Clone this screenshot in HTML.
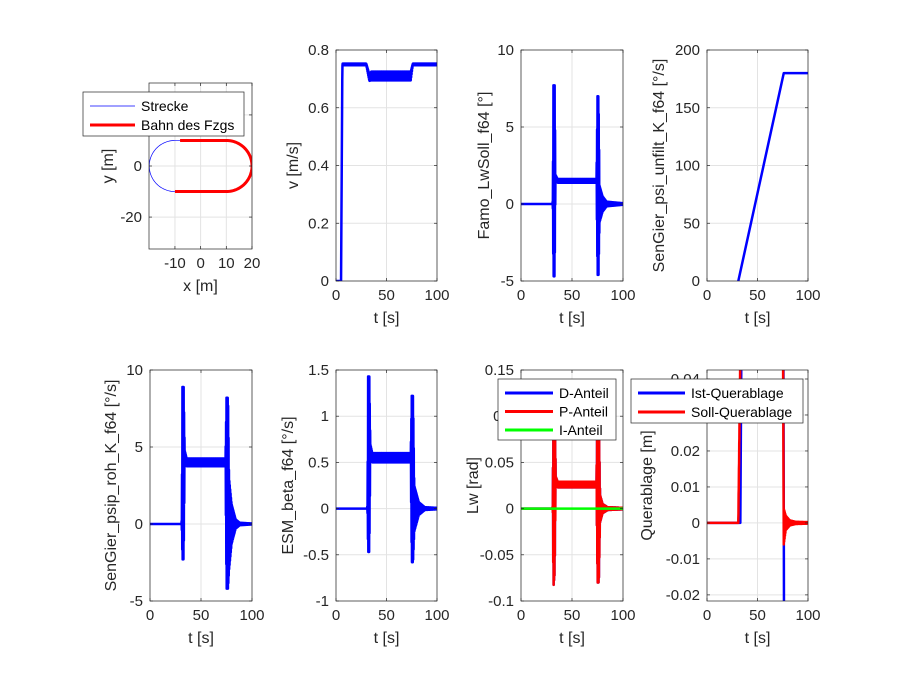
<!DOCTYPE html>
<html><head><meta charset="utf-8"><style>
html,body{margin:0;padding:0;background:#fff;width:900px;height:675px;overflow:hidden;}
svg{display:block;font-family:"Liberation Sans",Arial,sans-serif;}
</style></head><body>
<svg id="s" width="900" height="675" xmlns="http://www.w3.org/2000/svg"></svg>
<script>
var S=document.getElementById('s'),out='',cid=0;
function esc(t){return t.replace(/&/g,'&amp;').replace(/</g,'&lt;');}
function ax(o){
 var x0=o.x,y0=o.y,w=o.w,h=o.h;
 var X=function(v){return x0+(v-o.xr[0])/(o.xr[1]-o.xr[0])*w;};
 var Y=function(v){return y0+h-(v-o.yr[0])/(o.yr[1]-o.yr[0])*h;};
 cid++;
 var g='<defs><clipPath id="c'+cid+'"><rect x="'+x0+'" y="'+y0+'" width="'+w+'" height="'+h+'"/></clipPath></defs>';
 g+='<rect x="'+x0+'" y="'+y0+'" width="'+w+'" height="'+h+'" fill="#fff"/>';
 o.xt.forEach(function(v){var p=X(v);g+='<line x1="'+p+'" y1="'+y0+'" x2="'+p+'" y2="'+(y0+h)+'" stroke="#e3e3e3" stroke-width="1"/>';});
 o.yt.forEach(function(v){var p=Y(v);g+='<line x1="'+x0+'" y1="'+p+'" x2="'+(x0+w)+'" y2="'+p+'" stroke="#e3e3e3" stroke-width="1"/>';});
 g+='<g clip-path="url(#c'+cid+')">';
 o.series.forEach(function(s){
  var d='';s.pts.forEach(function(p,i){d+=(i?'L':'M')+X(p[0]).toFixed(2)+' '+Y(p[1]).toFixed(2);});
  g+='<path d="'+d+'" fill="none" stroke="'+s.c+'" stroke-width="'+s.w+'" stroke-linejoin="round"/>';
 });
 g+='</g>';
 g+='<rect x="'+x0+'" y="'+y0+'" width="'+w+'" height="'+h+'" fill="none" stroke="#262626" stroke-width="0.7"/>';
 o.xt.forEach(function(v){var p=X(v);g+='<line x1="'+p+'" y1="'+(y0+h)+'" x2="'+p+'" y2="'+(y0+h-3)+'" stroke="#262626" stroke-width="0.7"/><line x1="'+p+'" y1="'+y0+'" x2="'+p+'" y2="'+(y0+3)+'" stroke="#262626" stroke-width="0.7"/>';
  g+='<text x="'+p+'" y="'+(y0+h+19)+'" font-size="15" text-anchor="middle" fill="#262626">'+v+'</text>';});
 o.yt.forEach(function(v,i){var p=Y(v);g+='<line x1="'+x0+'" y1="'+p+'" x2="'+(x0+3)+'" y2="'+p+'" stroke="#262626" stroke-width="0.7"/><line x1="'+(x0+w)+'" y1="'+p+'" x2="'+(x0+w-3)+'" y2="'+p+'" stroke="#262626" stroke-width="0.7"/>';
  var lab=o.yl?o.yl[i]:String(v);
  if(lab!=='')g+='<text x="'+(x0-7)+'" y="'+(p+5)+'" font-size="15" text-anchor="end" fill="#262626">'+lab+'</text>';});
 g+='<text x="'+(x0+w/2)+'" y="'+(y0+h+42)+'" font-size="16" text-anchor="middle" fill="#262626">'+esc(o.xlab)+'</text>';
 var cy=y0+h/2;
 g+='<text transform="translate('+o.ylx+','+cy+') rotate(-90)" font-size="16" text-anchor="middle" fill="#262626">'+esc(o.ylab)+'</text>';
 if(o.leg){var L=o.leg;
  g+='<rect x="'+L.x+'" y="'+L.y+'" width="'+L.w+'" height="'+L.h+'" fill="#fff" stroke="#262626" stroke-width="0.7"/>';
  L.items.forEach(function(it,i){var yy=L.y+14+i*L.dy;
   g+='<line x1="'+L.lx+'" y1="'+yy+'" x2="'+(L.lx+L.ll)+'" y2="'+yy+'" stroke="'+it.c+'" stroke-width="'+it.w+'"/>';
   g+='<text x="'+(L.lx+L.ll+6)+'" y="'+(yy+5)+'" font-size="14" fill="#000">'+esc(it.t)+'</text>';});
 }
 out+=g;
}
function interp(keys,t){
 if(t<=keys[0][0])return [keys[0][1],keys[0][2]];
 for(var i=1;i<keys.length;i++){if(t<=keys[i][0]){var a=keys[i-1],b=keys[i],f=(t-a[0])/(b[0]-a[0]);return [a[1]+f*(b[1]-a[1]),a[2]+f*(b[2]-a[2])];}}
 var k=keys[keys.length-1];return [k[1],k[2]];
}
function osc(keys,dt){var p=[],i=0;for(var t=0;t<=100.0001;t+=dt){var v=interp(keys,t);p.push([t,v[0]+(i%2?v[1]:-v[1])]);i++;}return p;}
var T=[0,50,100];
var blue=[],red=[],i,a;
for(i=0;i<=60;i++){a=Math.PI/2+i*Math.PI/60;blue.push([-10+10*Math.cos(a),10*Math.sin(a)]);}
blue.push([10,-10]);
for(i=0;i<=60;i++){a=-Math.PI/2+i*Math.PI/60;blue.push([10+10*Math.cos(a),10*Math.sin(a)]);}
blue.push([-10,10]);
red.push([-8,10]);red.push([10,10]);
for(i=0;i<=60;i++){a=Math.PI/2-i*Math.PI/60;red.push([10+10*Math.cos(a),10*Math.sin(a)]);}
red.push([-10,-10]);
ax({x:149,y:83,w:103,h:166,xr:[-20.1,20],yr:[-32.5,32.5],xt:[-10,0,10,20],yt:[-20,0,20],yl:['-20','0',''],xlab:'x [m]',ylab:'y [m]',ylx:113,
 series:[{pts:blue,c:'#0000ff',w:0.7},{pts:red,c:'#ff0000',w:3}],
 leg:{x:83,y:92,w:161,h:44,lx:90,ll:45,dy:19,items:[{t:'Strecke',c:'#0000ff',w:0.7},{t:'Bahn des Fzgs',c:'#ff0000',w:3}]}});
var vk=[[0,0,0],[5,0,0],[6.3,0.75,0.003],[30,0.75,0.003],[33,0.705,0.012],[35,0.71,0.015],[74,0.71,0.015],[76,0.75,0.003],[100,0.75,0.003]];
ax({x:336,y:50,w:101,h:231,xr:[0,100],yr:[0,0.8],xt:T,yt:[0,0.2,0.4,0.6,0.8],xlab:'t [s]',ylab:'v [m/s]',ylx:298,
 series:[{pts:osc(vk,0.2),c:'#0000ff',w:2.5}]});
var fk=[[0,0,0],[30.8,0,0],[31.2,0,0.3],[31.8,1.5,6.2],[33,1.5,6.2],[33.8,1.7,0.2],[36,1.5,0.12],[74,1.5,0.12],[75,1.2,5.8],[76,1.2,5.8],[77,0,1.2],[80,0,0.5],[84,0,0.15],[100,0,0.05]];
ax({x:521,y:50,w:102,h:231,xr:[0,100],yr:[-5,10],xt:T,yt:[-5,0,5,10],xlab:'t [s]',ylab:'Famo_LwSoll_f64 [°]',ylx:489,
 series:[{pts:osc(fk,0.2),c:'#0000ff',w:2.5}]});
ax({x:707,y:50,w:101,h:231,xr:[0,100],yr:[0,200],xt:T,yt:[0,50,100,150,200],xlab:'t [s]',ylab:'SenGier_psi_unfilt_K_f64 [°/s]',ylx:664,
 series:[{pts:[[30,-5],[31,0],[76,180],[100,180]],c:'#0000ff',w:2.5}]});
var pk=[[0,0,0],[30.8,0,0],[31.2,0,0.4],[31.8,3.3,5.6],[33,3.3,5.6],[34,4.3,0.5],[36,4,0.25],[74,4,0.25],[75,2,6.2],[76.5,2,6.2],[77.5,0,3],[80,0,1.3],[84,0,0.3],[88,0,0.08],[100,0,0.03]];
ax({x:150,y:370,w:102,h:231,xr:[0,100],yr:[-5,10],xt:T,yt:[-5,0,5,10],xlab:'t [s]',ylab:'SenGier_psip_roh_K_f64 [°/s]',ylx:116,
 series:[{pts:osc(pk,0.2),c:'#0000ff',w:2.5}]});
var ek=[[0,0,0],[30.8,0,0],[31.2,0,0.05],[31.8,0.48,0.95],[33,0.48,0.95],[34,0.62,0.08],[36,0.55,0.05],[74,0.55,0.05],[75,0.32,0.9],[76.3,0.32,0.9],[77.5,0,0.25],[82,0,0.07],[88,0,0.015],[100,0,0.008]];
ax({x:336,y:370,w:101,h:231,xr:[0,100],yr:[-1,1.5],xt:T,yt:[-1,-0.5,0,0.5,1,1.5],xlab:'t [s]',ylab:'ESM_beta_f64 [°/s]',ylx:293,
 series:[{pts:osc(ek,0.2),c:'#0000ff',w:2.5}]});
var lk=[[0,0,0],[30.8,0,0],[31.2,0,0.004],[31.8,0.02,0.105],[33,0.03,0.1],[34,0.03,0.005],[36,0.026,0.003],[74,0.026,0.003],[75,0.02,0.1],[76.3,0.01,0.09],[77.5,0,0.015],[80,0,0.005],[85,0,0.0015],[100,0,0.0008]];
var lp=osc(lk,0.2);
ax({x:521,y:370,w:102,h:231,xr:[0,100],yr:[-0.1,0.15],xt:T,yt:[-0.1,-0.05,0,0.05,0.1,0.15],xlab:'t [s]',ylab:'Lw [rad]',ylx:478,
 series:[{pts:lp,c:'#0000ff',w:2.5},{pts:lp,c:'#ff0000',w:2.5},{pts:[[0,0],[100,0]],c:'#00ff00',w:2.5}],
 leg:{x:498,y:379,w:118,h:61,lx:505,ll:48,dy:18.5,items:[{t:'D-Anteil',c:'#0000ff',w:3},{t:'P-Anteil',c:'#ff0000',w:3},{t:'I-Anteil',c:'#00ff00',w:3}]}});
var rq=[[0,0],[31,0]];
for(var t=31;t<=34;t+=0.15){rq.push([t,(t-31)/3*0.07+((Math.round(t/0.15))%2?0.001:-0.001)]);}
rq.push([75,0.07]);
var qk=[[0,0,0],[76,-0.001,0.005],[78,0,0.002],[82,0,0.0007],[88,0,0.0003],[100,0,0.0002]];
var qo=osc(qk,0.2).filter(function(p){return p[0]>=76;});
rq=rq.concat(qo);
ax({x:707,y:370,w:101,h:231,xr:[0,100],yr:[-0.0217,0.0425],xt:T,yt:[-0.02,-0.01,0,0.01,0.02,0.03,0.04],xlab:'t [s]',ylab:'Querablage [m]',ylx:652,
 series:[{pts:[[0,0],[33,0],[34.5,0.07],[75.5,0.07],[76.5,-0.06]],c:'#0000ff',w:2.5},{pts:rq,c:'#ff0000',w:2.5}],
 leg:{x:631,y:379,w:172,h:44,lx:638,ll:47,dy:19,items:[{t:'Ist-Querablage',c:'#0000ff',w:3},{t:'Soll-Querablage',c:'#ff0000',w:3}]}});
S.innerHTML=out;
</script>
</body></html>
